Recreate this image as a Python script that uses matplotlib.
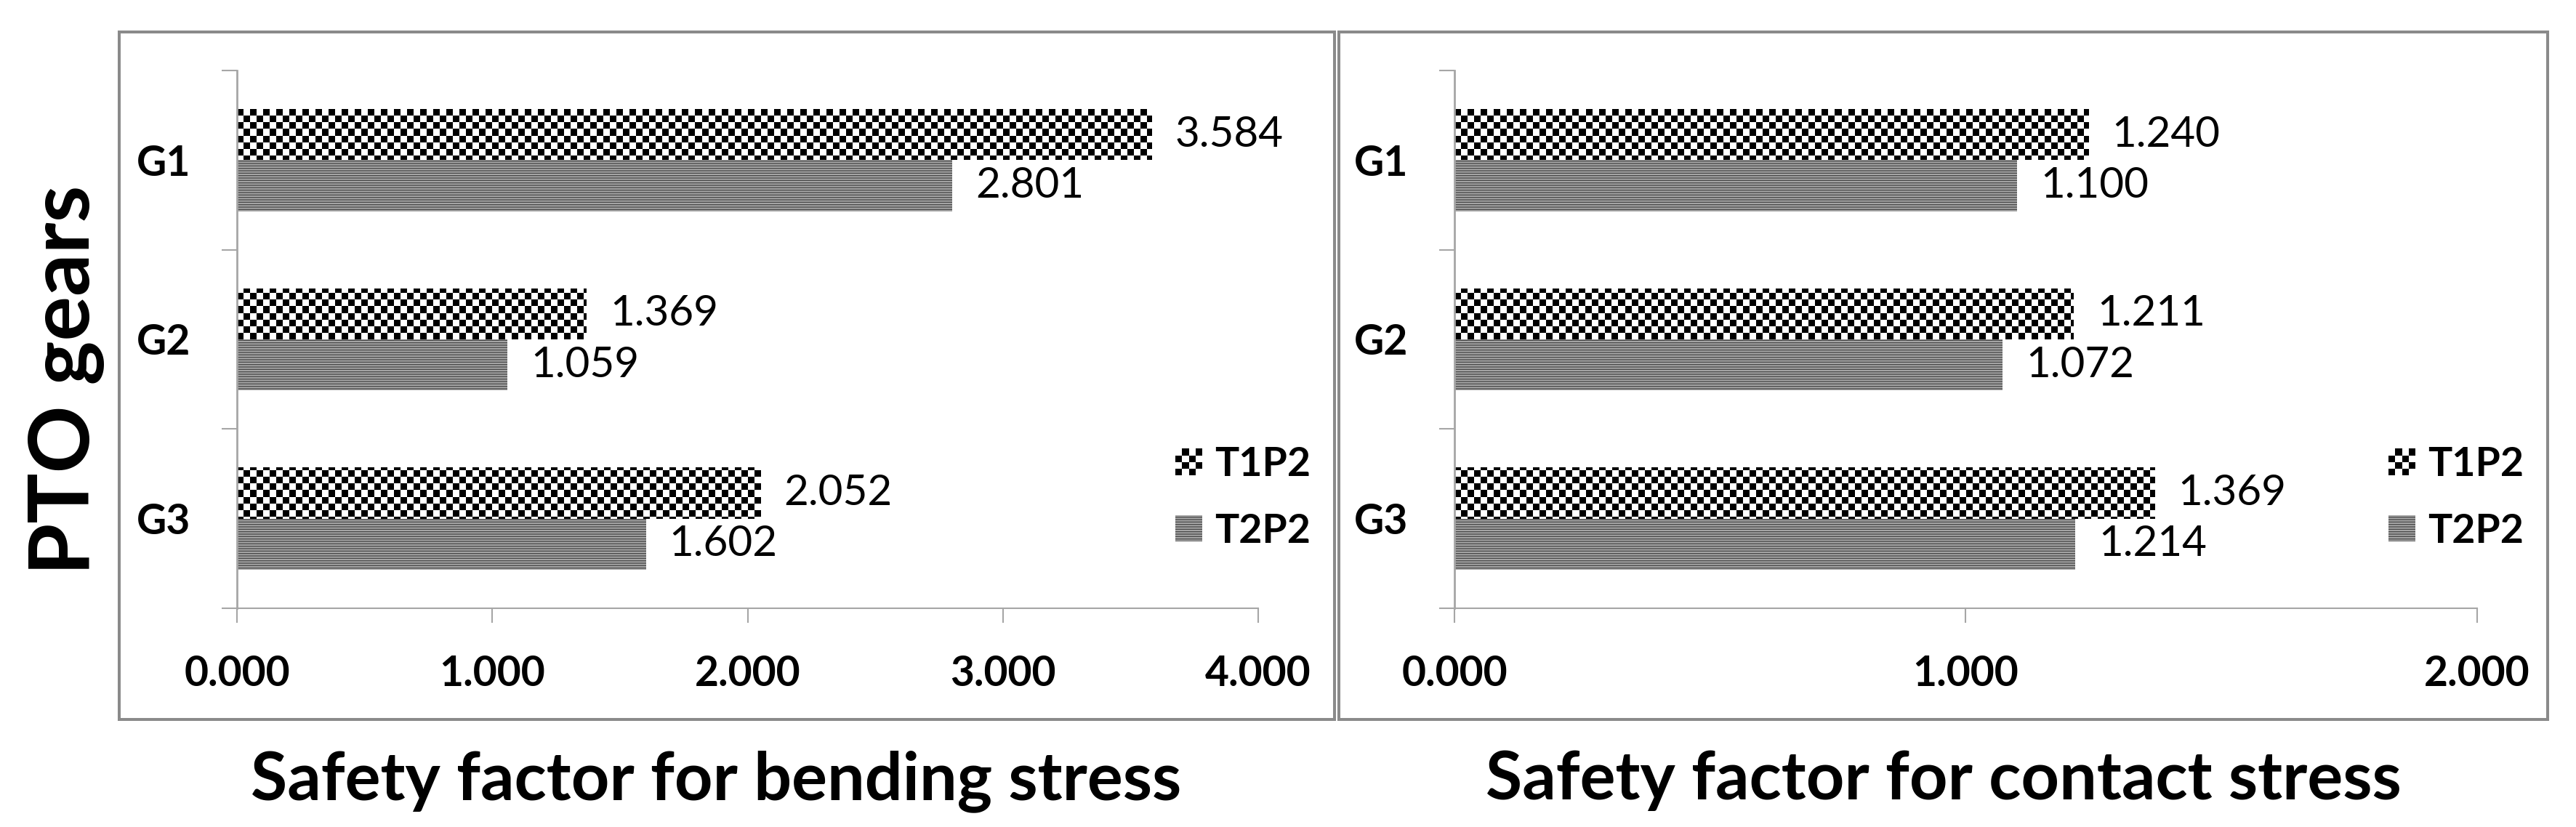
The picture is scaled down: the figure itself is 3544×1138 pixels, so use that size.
import matplotlib
matplotlib.use('Agg')
import matplotlib.pyplot as plt
import matplotlib.patches as mpatches
from matplotlib.legend_handler import HandlerBase
import numpy as np

plt.rcParams['font.family'] = ['Lato', 'DejaVu Sans']

# data
gears = ['G1', 'G2', 'G3']
series = ['T1P2', 'T2P2']
bending_t1p2 = [3.584, 1.369, 2.052]
bending_t2p2 = [2.801, 1.059, 1.602]
contact_t1p2 = [1.240, 1.211, 1.369]
contact_t2p2 = [1.100, 1.072, 1.214]
bending_ticks = [0, 1, 2, 3, 4]
contact_ticks = [0, 1, 2]
xtitles = ['Safety factor for bending stress', 'Safety factor for contact stress']
ytitle = 'PTO gears'

W, H, DPI = 3544, 1138, 100
AXIS_GRAY = '#a6a6a6'
FRAME_GRAY = '#8a8a8a'
BAR_H = 0.285
SQ = 9  # checker square, px


class CheckerHandler(HandlerBase):
    # small 4x4 checkerboard swatch for the legend
    def create_artists(self, legend, orig_handle, xdescent, ydescent,
                       width, height, fontsize, trans):
        n = 4
        cw, ch = width / n, height / n
        arts = [mpatches.Rectangle((-xdescent, -ydescent), width, height,
                                   fc='white', ec='none', transform=trans)]
        for i in range(n):
            for j in range(n):
                if (i + j) % 2 == 0:
                    arts.append(mpatches.Rectangle(
                        (-xdescent + j * cw, -ydescent + i * ch), cw, ch,
                        fc='black', ec='none', transform=trans))
        return arts


fig = plt.figure(figsize=(W / DPI, H / DPI), dpi=DPI)


def px(x0, y0, x1, y1):
    # pixel box (top-left origin) -> figure fraction rect
    return [x0 / W, 1 - y1 / H, (x1 - x0) / W, (y1 - y0) / H]


def panel(rect, frame, t1, t2, ticks, xtitle, title_x, leg_x):
    fig.add_artist(mpatches.Rectangle((frame[0], frame[1]), frame[2], frame[3],
                                      transform=fig.transFigure, fill=False,
                                      ec=FRAME_GRAY, lw=2.9))
    ax = fig.add_axes(rect)
    y = np.arange(len(gears))
    b1 = ax.barh(y - BAR_H / 2, t1, height=BAR_H, color='white', lw=0, zorder=2)
    b2 = ax.barh(y + BAR_H / 2, t2, height=BAR_H, facecolor='#a8a8a8',
                 edgecolor='#4a4a4a', hatch='-----', lw=0, zorder=2)

    # checkerboard fill for T1P2, clipped to each bar
    nx = int(round(rect[2] * W / SQ))
    ny = int(round(rect[3] * H / SQ))
    tex = (np.add.outer(np.arange(ny), np.arange(nx)) % 2).astype(float)
    ext = (ticks[0], ticks[-1], len(gears) - 0.5, -0.5)
    for bar in b1:
        im = ax.imshow(tex, cmap='gray', vmin=0, vmax=1, extent=ext,
                       aspect='auto', interpolation='nearest', zorder=2.5)
        im.set_clip_path(bar)

    ax.set_xlim(ticks[0], ticks[-1])
    ax.set_ylim(len(gears) - 0.5, -0.5)

    ax.bar_label(b1, fmt='%.3f', padding=23, fontsize=42)
    ax.bar_label(b2, fmt='%.3f', padding=23, fontsize=42)

    ax.set_xticks(ticks)
    ax.set_xticklabels([f'{t:.3f}' for t in ticks], fontweight='bold')
    ax.set_yticks(np.arange(len(gears) + 1) - 0.5)
    ax.set_yticklabels([])
    ax.set_yticks(y, minor=True)
    ax.set_yticklabels(gears, minor=True, fontweight='bold')
    ax.tick_params(axis='y', which='major', length=15, width=1.5,
                   color=AXIS_GRAY, direction='out')
    ax.tick_params(axis='y', which='minor', length=0, pad=46, labelsize=41)
    ax.tick_params(axis='x', length=14.4, width=1.5, color=AXIS_GRAY,
                   direction='out', pad=32, labelsize=41)
    for s in ['top', 'right']:
        ax.spines[s].set_visible(False)
    ax.spines['left'].set_color(AXIS_GRAY)
    ax.spines['left'].set_linewidth(2)
    ax.spines['bottom'].set_color(AXIS_GRAY)
    ax.spines['bottom'].set_linewidth(1.5)

    proxy = mpatches.Patch(label=series[0])
    ax.legend([proxy, b2], series, handler_map={proxy: CheckerHandler()},
              loc='center left', bbox_to_anchor=(leg_x, 1 - 685 / H),
              bbox_transform=fig.transFigure, frameon=False, borderpad=0,
              borderaxespad=0, handlelength=0.67, handleheight=0.63,
              handletextpad=0.3, labelspacing=0.75,
              prop={'family': 'Lato', 'weight': 'bold', 'size': 40})

    fig.text(title_x, 1 - 1100 / H, xtitle, ha='center',
             va='baseline', fontsize=66, fontweight='bold')
    return ax


panel(px(326, 97, 1731, 837), px(164, 44, 1836, 990),
      bending_t1p2, bending_t2p2, bending_ticks, xtitles[0], 985 / W, 1617 / W)
panel(px(2001, 97, 3408, 837), px(1842, 44, 3505, 990),
      contact_t1p2, contact_t2p2, contact_ticks, xtitles[1], 2674 / W, 3286 / W)

fig.text(91 / W, 1 - 523 / H, ytitle, rotation=90, ha='center', va='center',
         fontsize=83, fontweight='bold')

fig.savefig('out.png', dpi=DPI)
